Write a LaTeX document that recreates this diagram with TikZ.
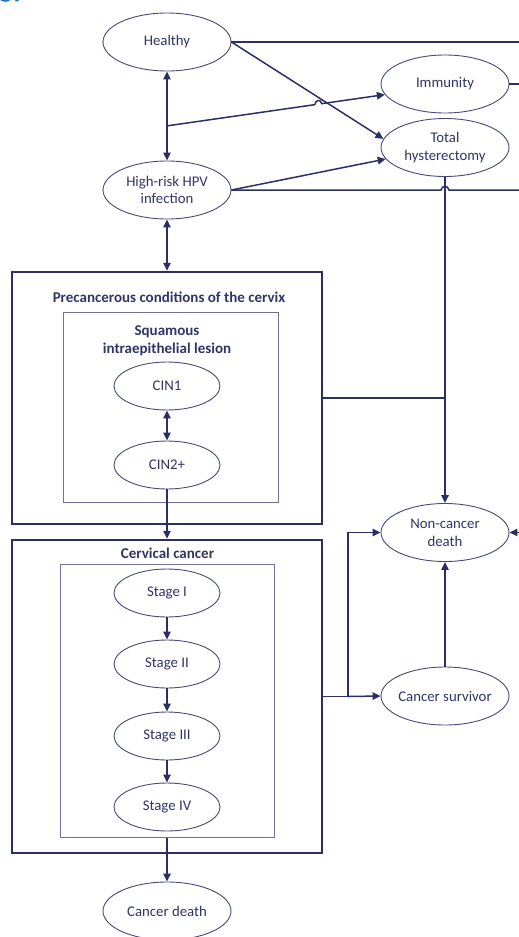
\documentclass[tikz,border=0pt]{standalone}
\usepackage{fontspec}
\setmainfont{Carlito}
\usetikzlibrary{shapes.geometric,arrows.meta,calc}

\definecolor{navy}{RGB}{45,46,100}
\definecolor{ellcol}{RGB}{72,72,122}
\definecolor{boxcol}{RGB}{112,112,152}
\definecolor{txt}{RGB}{50,52,104}
\definecolor{headblue}{RGB}{30,118,200}

\tikzset{
  state/.style={ellipse, draw=ellcol, line width=0.9pt, fill=white, text=txt,
    minimum width=128pt, minimum height=58pt, inner xsep=-15pt, inner ysep=0pt,
    align=center, font=\fontsize{14.8}{17.8}\selectfont},
  substate/.style={state, minimum width=106pt, minimum height=48pt},
  outerbox/.style={draw=navy, line width=2.4pt, inner sep=0pt},
  innerbox/.style={draw=boxcol, line width=1pt, inner sep=0pt},
  boxtitle/.style={text=txt, inner sep=0pt, align=center,
    font=\bfseries\fontsize{15}{17.6}\selectfont},
  line/.style={draw=navy, line width=1.5pt},
  link/.style={line, ->},
  both/.style={line, <->},
  >={Triangle[length=8pt,width=7.5pt]}
}

\begin{document}
\begin{tikzpicture}[x=1pt,y=-1pt]
\useasboundingbox (0,0) rectangle (519,937);
\clip (0,0) rectangle (519,937);

% heading running off the top edge
\node[anchor=base west, text=headblue, inner sep=0pt,
  font=\bfseries\fontsize{28}{28}\selectfont] (head) at (-1,-2.5) {gy};

% group boxes
\node[outerbox, minimum width=310pt, minimum height=252pt] (pre) at (167,398) {};
\node[innerbox, minimum width=215pt, minimum height=190pt] (sil) at (170.5,407) {};
\node[boxtitle] (preT) at (169,297) {Precancerous conditions of the cervix};
\node[boxtitle] (silT) at (167,340.5) {Squamous\\intraepithelial lesion};

\node[outerbox, minimum width=310pt, minimum height=313pt] (cc) at (167,696.5) {};
\node[innerbox, minimum width=214pt, minimum height=273pt] (stg) at (167,700.5) {};
\node[boxtitle] (ccT) at (167.5,553) {Cervical cancer};

% states
\node[state] (healthy) at (167,42) {Healthy};
\node[state] (hpv) at (167,190) {High-risk HPV\\infection};
\node[state] (imm) at (445,84) {Immunity};
\node[state] (hyst) at (445,147.5) {Total\\hysterectomy};
\node[state] (ncd) at (445,532.5) {Non-cancer\\death};
\node[state] (surv) at (445,696) {Cancer survivor};
\node[state] (cdeath) at (167,911) {Cancer death};

\node[substate] (cin1) at (167,386) {CIN1};
\node[substate] (cin2) at (167,465) {CIN2+};

\node[substate] (s1) at (167,593) {Stage I};
\node[substate] (s2) at (167,664) {Stage II};
\node[substate] (s3) at (167,736) {Stage III};
\node[substate] (s4) at (167,807) {Stage IV};

% loose ends at the right edge
\coordinate (rH) at (519,42);
\coordinate (rI) at (519,84);
\coordinate (rP) at (519,190);
\coordinate (rN) at (519,532.5);

% top part
\draw[both] (healthy.south) -- (hpv.north);
\coordinate (J) at ($(healthy.south)!0.611!(hpv.north)$);
\draw[link] (healthy.east) -- (hyst.172);
\draw[link] (J) -- ($(J)!0.678!(imm.190)$)
  .. controls +(1,-5) and +(-1,-5) .. ($(J)!0.710!(imm.190)$) -- (imm.190);
\draw[line] (healthy.east) -- (rH);
\draw[line] (imm.east) -- (rI);
\draw[link] (hpv.east) -- (hyst.191);
\draw[line] (hpv.east) -- ($(hyst.south |- hpv.east)+(-4,0)$)
  .. controls +(1,-5) and +(-1,-5) .. ($(hyst.south |- hpv.east)+(4,0)$) -- (rP);
\draw[link] (hyst.south) -- (ncd.north);
\draw[both] (hpv.south) -- (pre.north);

% precancerous block
\draw[both] (cin1.south) -- (cin2.north);
\draw[line] (pre.east) -- (pre.east -| hyst.south);
\draw[link] (cin2.south) -- (cc.north);

% cancer block
\draw[link] (s1.south) -- (s2.north);
\draw[link] (s2.south) -- (s3.north);
\draw[link] (s3.south) -- (s4.north);
\draw[link] (stg.south) -- (cdeath.north);

\coordinate (K) at ($(cc.east)+(25,0)$);
\draw[line] (cc.east) -- (K);
\draw[link] (K) -- (K |- ncd.west) -- (ncd.west);
\draw[link] (K) -- (surv.west);
\draw[link] (surv.north) -- (ncd.south);
\draw[link] (rN) -- (ncd.east);
\end{tikzpicture}
\end{document}
